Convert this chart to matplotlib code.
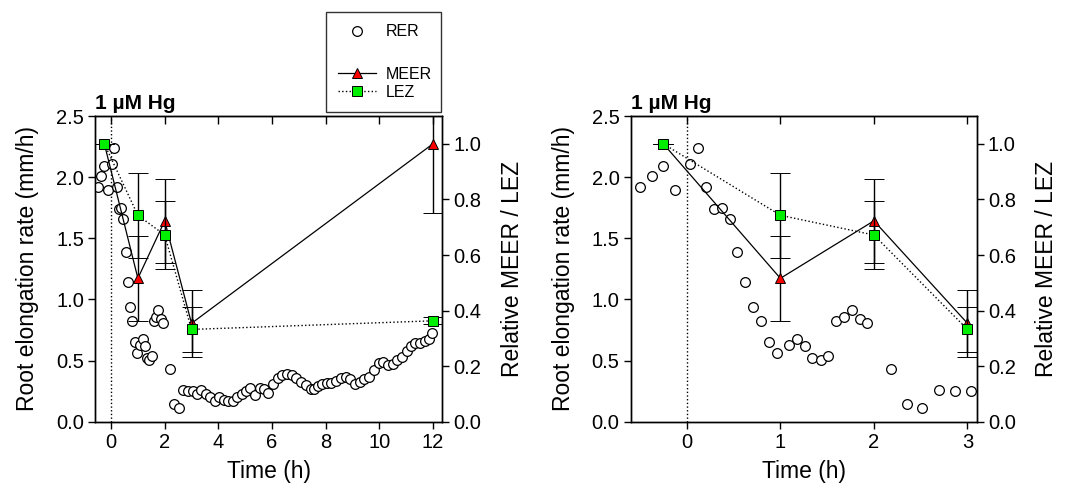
import matplotlib
matplotlib.use('Agg')
import matplotlib.pyplot as plt
from matplotlib.lines import Line2D

plt.rcParams['font.family'] = ['Liberation Sans', 'DejaVu Sans']

# ---------------- data ----------------
rer_time = [-0.50, -0.375, -0.25, -0.125, 0.036, 0.121, 0.204, 0.286, 0.375, 0.457,
            0.539, 0.621, 0.707, 0.789, 0.875, 0.961, 1.089, 1.175, 1.261, 1.343,
            1.429, 1.514, 1.593, 1.679, 1.761, 1.846, 1.929, 2.182, 2.354, 2.518,
            2.70, 2.87, 3.04, 3.19, 3.36, 3.53, 3.69, 3.86, 4.04, 4.20,
            4.37, 4.55, 4.71, 4.87, 5.04, 5.20, 5.37, 5.54, 5.70, 5.87,
            6.04, 6.21, 6.39, 6.56, 6.74, 6.91, 7.09, 7.26, 7.44, 7.58,
            7.71, 7.88, 8.04, 8.21, 8.40, 8.57, 8.75, 8.92, 9.10, 9.27,
            9.44, 9.63, 9.80, 9.98, 10.15, 10.34, 10.51, 10.68, 10.86, 11.02,
            11.18, 11.35, 11.52, 11.70, 11.85, 11.96]
rer_rate = [1.917, 2.007, 2.088, 1.892, 2.107, 2.241, 1.917, 1.742, 1.748, 1.660,
            1.385, 1.140, 0.935, 0.826, 0.652, 0.564, 0.624, 0.676, 0.619, 0.523,
            0.502, 0.537, 0.826, 0.853, 0.916, 0.840, 0.804, 0.433, 0.144, 0.109,
            0.255, 0.252, 0.247, 0.226, 0.262, 0.226, 0.202, 0.169, 0.199, 0.174,
            0.169, 0.169, 0.199, 0.226, 0.250, 0.273, 0.215, 0.278, 0.270, 0.232,
            0.305, 0.360, 0.384, 0.393, 0.382, 0.357, 0.322, 0.297, 0.270, 0.264,
            0.294, 0.308, 0.314, 0.319, 0.330, 0.360, 0.368, 0.349, 0.311, 0.322,
            0.346, 0.368, 0.420, 0.477, 0.488, 0.461, 0.469, 0.504, 0.526, 0.580,
            0.620, 0.645, 0.640, 0.660, 0.680, 0.728]

sample_time = [-0.25, 1, 2, 3, 12]
meer_rel = [1.0, 0.516, 0.723, 0.354, 1.0]
meer_err = [0.0, 0.154, 0.150, 0.120, 0.25]
lez_rel = [1.0, 0.743, 0.672, 0.332, 0.363]
lez_err = [0.0, 0.154, 0.124, 0.080, 0.013]

panel_title = '1 µM Hg'
left_xticks = [0, 2, 4, 6, 8, 10, 12]
right_xticks = [0, 1, 2, 3]
left_yticks = [0.0, 0.5, 1.0, 1.5, 2.0, 2.5]
rel_yticks = [0.0, 0.2, 0.4, 0.6, 0.8, 1.0]

# ---------------- figure ----------------
fig = plt.figure(figsize=(10.65, 4.88), dpi=100)

TICK_FS = 14.5
LABEL_FS = 16.5
RED = '#ff0000'
GREEN = '#00ee00'


def make_panel(rect, xlim, xticks, npts):
    ax = fig.add_axes(rect)
    ax.set_xlim(*xlim)
    ax.set_ylim(0, 2.5)
    ax.axvline(0, color='black', linestyle=':', linewidth=1.0, zorder=1)
    ax.plot(rer_time, rer_rate, linestyle='none', marker='o', markersize=7,
            markerfacecolor='white', markeredgecolor='black', markeredgewidth=0.9,
            zorder=3)
    ax.set_xticks(xticks)
    ax.set_yticks(left_yticks)
    ax.set_yticklabels([f'{v:.1f}' for v in left_yticks])
    ax.tick_params(axis='both', direction='out', length=5, width=1,
                   labelsize=TICK_FS, pad=3)
    sec = ax.secondary_xaxis('top')
    sec.set_xticks(xticks)
    sec.tick_params(direction='in', length=6, width=1, labeltop=False)
    ax.set_xlabel('Time (h)', fontsize=LABEL_FS, labelpad=6)
    ax.set_ylabel('Root elongation rate (mm/h)', fontsize=LABEL_FS, labelpad=12)
    ax.set_title(panel_title, loc='left', fontsize=15, fontweight='bold', pad=5)

    ax2 = ax.twinx()
    ax2.set_ylim(0, 1.1)
    ax2.set_yticks(rel_yticks)
    ax2.set_yticklabels([f'{v:.1f}' for v in rel_yticks])
    ax2.tick_params(axis='y', direction='out', length=5, width=1,
                    labelsize=TICK_FS, pad=3)
    ax2.set_ylabel('Relative MEER / LEZ', fontsize=LABEL_FS, labelpad=14)

    t = sample_time[:npts]
    ax2.errorbar(t, meer_rel[:npts], yerr=meer_err[:npts], color='black',
                 linestyle='-', linewidth=0.9, marker='^', markersize=7.5,
                 markerfacecolor=RED, markeredgecolor='black', markeredgewidth=0.7,
                 capsize=7, elinewidth=1.0, capthick=1.0, zorder=4)
    ax2.errorbar(t, lez_rel[:npts], yerr=lez_err[:npts], color='black',
                 linestyle=':', linewidth=1.0, marker='s', markersize=7,
                 markerfacecolor=GREEN, markeredgecolor='black', markeredgewidth=0.7,
                 capsize=7, elinewidth=1.0, capthick=1.0, zorder=5)
    for a in (ax, ax2):
        for s in a.spines.values():
            s.set_linewidth(1.0)
    return ax, ax2


make_panel([0.0892, 0.136, 0.326, 0.626], (-0.6, 12.35), left_xticks, 5)
make_panel([0.5922, 0.136, 0.325, 0.626], (-0.6, 3.1), right_xticks, 4)

# legend
h_rer = Line2D([], [], linestyle='none', marker='o', markersize=7,
               markerfacecolor='white', markeredgecolor='black', markeredgewidth=0.9)
h_blank = Line2D([], [], linestyle='none', marker=None)
h_meer = Line2D([], [], color='black', linestyle='-', linewidth=0.9, marker='^',
                markersize=7, markerfacecolor=RED, markeredgecolor='black',
                markeredgewidth=0.7)
h_lez = Line2D([], [], color='black', linestyle=':', linewidth=1.0, marker='s',
               markersize=6.5, markerfacecolor=GREEN, markeredgecolor='black',
               markeredgewidth=0.7)
leg = fig.legend([h_rer, h_blank, h_meer, h_lez], ['RER', ' ', 'MEER', 'LEZ'],
                 loc='upper left', bbox_to_anchor=(0.306, 0.975, 0.108, 0.0),
                 mode='expand', fontsize=11.5, frameon=True, fancybox=False,
                 edgecolor='black', handlelength=2.4, handletextpad=0.6,
                 labelspacing=0.18, borderpad=0.75, borderaxespad=0)
leg.get_texts()[1].set_fontsize(17)
leg.get_frame().set_linewidth(1.0)

fig.savefig('out.png', dpi=100)
